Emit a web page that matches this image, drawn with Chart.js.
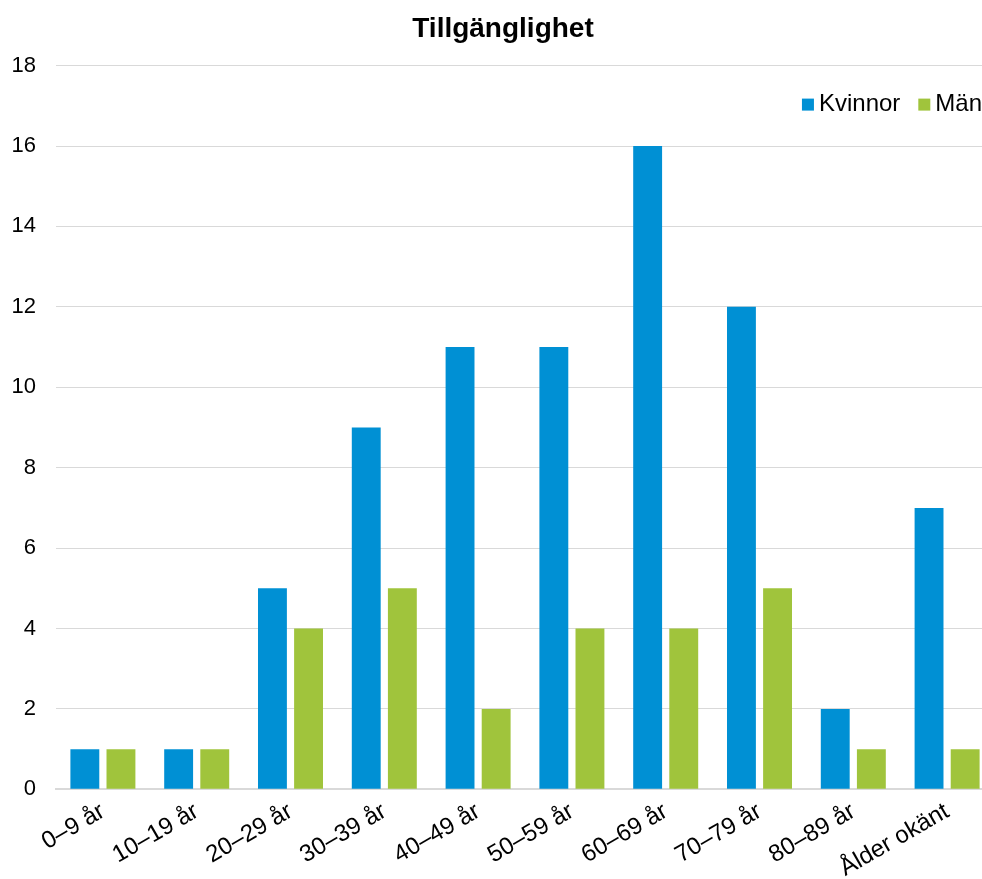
<!DOCTYPE html>
<html>
<head>
<meta charset="utf-8">
<script src="https://cdn.jsdelivr.net/npm/chart.js@4/dist/chart.umd.min.js"></script>
<style>
  html, body { margin: 0; padding: 0; background: #fff; overflow: hidden; }
  /* plot runs slightly past the right edge of the window, as in the source */
  #wrap { width: 994px; height: 879px; }
</style>
</head>
<body>
<div id="wrap"><canvas id="chart"></canvas></div>
<script>
const categories = ["0–9 år", "10–19 år", "20–29 år", "30–39 år", "40–49 år",
  "50–59 år", "60–69 år", "70–79 år", "80–89 år", "Ålder okänt"];
const kvinnor = [1, 1, 5, 9, 11, 11, 16, 12, 2, 7];
const man = [1, 1, 4, 5, 2, 4, 4, 5, 1, 1];
const yTicks = { min: 0, max: 18, step: 2 };

const FONT = "'Liberation Sans', Arial, sans-serif";
Chart.defaults.font.family = FONT;
Chart.defaults.color = "#000";

// horizontal legend drawn inside the plot area, top right
const innerLegend = {
  id: "innerLegend",
  afterDraw(chart) {
    const ctx = chart.ctx;
    const area = chart.chartArea;
    const box = 12, gap = 5, itemGap = 18;
    const y = area.top + 39;
    ctx.save();
    ctx.font = "24px " + FONT;
    ctx.textBaseline = "middle";
    let x = window.innerWidth;
    const items = chart.data.datasets.slice().reverse();
    items.forEach(ds => {
      const w = ctx.measureText(ds.label).width;
      x -= w;
      ctx.fillStyle = "#000";
      ctx.fillText(ds.label, x, y);
      x -= gap + box;
      ctx.fillStyle = ds.backgroundColor;
      ctx.fillRect(x, y - box / 2, box, box);
      x -= itemGap;
    });
    ctx.restore();
  }
};

new Chart(document.getElementById("chart"), {
  type: "bar",
  data: {
    labels: categories,
    datasets: [
      { label: "Kvinnor", data: kvinnor, backgroundColor: "#0090D4" },
      { label: "Män", data: man, backgroundColor: "#A0C43C" }
    ]
  },
  options: {
    responsive: true,
    maintainAspectRatio: false,
    animation: false,
    categoryPercentage: 0.77,
    barPercentage: 0.8,
    layout: { padding: { left: 12, right: 0, top: 0, bottom: -4 } },
    plugins: {
      title: {
        display: true,
        text: "Tillgänglighet",
        color: "#000",
        font: { size: 28, weight: "bold" },
        padding: { top: 12, bottom: 20 }
      },
      legend: { display: false },
      tooltip: { enabled: false }
    },
    scales: {
      x: {
        grid: { display: false },
        border: { display: true, color: "#d9d9d9", width: 2 },
        ticks: {
          color: "#000",
          font: { size: 24 },
          minRotation: 30,
          maxRotation: 30,
          padding: 0
        },
        afterFit(scale) {
          scale.paddingLeft = 0;
          scale.paddingRight = 0;
        }
      },
      y: {
        min: yTicks.min,
        max: yTicks.max,
        grid: { color: "#d9d9d9", lineWidth: 1, drawTicks: false },
        border: { display: false },
        ticks: {
          stepSize: yTicks.step,
          color: "#000",
          font: { size: 22 },
          padding: 20
        },
        afterFit(scale) {
          scale.width = 44;
        }
      }
    }
  },
  plugins: [innerLegend]
});
</script>
</body>
</html>
